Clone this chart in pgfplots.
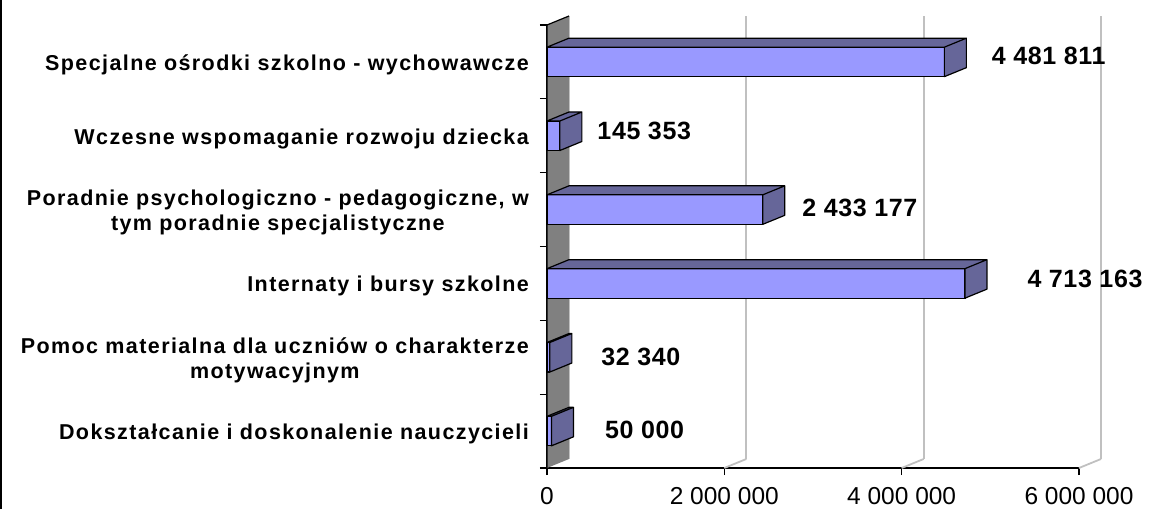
\documentclass[border=0pt]{standalone}
\usepackage{fontspec}
\setmainfont{Liberation Sans}
\newfontfamily\labfont[LetterSpace=6.5]{Liberation Sans}
\newfontfamily\valfontfam[LetterSpace=2.5]{Liberation Sans}
\usepackage{pgfplots}
\pgfplotsset{compat=1.18}
\usepackage{pgfplotstable}

\definecolor{barfront}{HTML}{9999FF}
\definecolor{barside}{HTML}{666699}
\definecolor{wall}{HTML}{808080}
\definecolor{gridc}{HTML}{C0C0C0}

\newcommand\catfont{\labfont\bfseries\fontsize{21.5}{25.5}\selectfont}
\newcommand\valfont{\valfontfam\bfseries\fontsize{25}{28}\selectfont}
\newcommand\ticfont{\fontsize{24.5}{28}\selectfont}

\pgfplotstableread[col sep=comma]{
y,v,lx,ly,lbl
0,50000,53,1,50 000
1,32340,51,0,32 340
2,4713163,62,5,4 713 163
3,2433177,39,2,2 433 177
4,145353,37,5,145 353
5,4481811,47,6,4 481 811
}\data

\begin{document}
\begin{tikzpicture}
\path[use as bounding box] (0pt,0pt) rectangle (1151pt,509pt);
\draw[black, line width=2pt] (1pt,0pt) -- (1pt,509pt);
\begin{axis}[
  at={(547pt,41pt)}, anchor=south west,
  scale only axis, width=532pt, height=443pt,
  xmin=0, xmax=6000000, ymin=-0.5, ymax=5.5,
  axis x line*=bottom, axis y line*=left,
  axis line style={black, line width=1.2pt},
  xtick={0,2000000,4000000,6000000},
  xticklabels={0,{2 000 000},{4 000 000},{6 000 000}},
  scaled x ticks=false,
  ytick={-0.5,0.5,...,5.5},
  y tick label as interval,
  yticklabels={Dokształcanie i doskonalenie nauczycieli,
    {Pomoc materialna dla uczniów o charakterze\\motywacyjnym},
    Internaty i bursy szkolne,
    {Poradnie psychologiczno - pedagogiczne, w\\tym poradnie specjalistyczne},
    Wczesne wspomaganie rozwoju dziecka,
    Specjalne ośrodki szkolno - wychowawcze},
  tick align=outside, major tick length=7pt,
  tick style={black, line width=1.2pt},
  xticklabel style={font=\ticfont, inner sep=0pt, anchor=north, yshift=-12pt},
  yticklabel style={font=\catfont, align=center, inner sep=0pt, anchor=east, xshift=-11pt, yshift=-3pt},
  xmajorgrids=true, ymajorgrids=false,
  major grid style={gridc, line width=1.8pt, xshift=22pt, yshift=9pt},
  clip=false,
  xbar, bar width=29.5pt,
]
% back wall
\fill[wall] (axis cs:0,-0.5) -- ++(22pt,9pt) -- ([shift={(22pt,9pt)}]axis cs:0,5.5) -- (axis cs:0,5.5) -- cycle;
\draw[black, line width=1.2pt] (axis cs:0,-0.5) -- (axis cs:0,5.5) -- ++(22pt,9pt);
\pgfplotsinvokeforeach{2000000,4000000,6000000}{
  \draw[gridc, line width=1.8pt] (axis cs:#1,-0.5) -- ++(22pt,9pt);
}
\addplot[xbar, fill=barfront, draw=black, line width=1.2pt,
  point meta=explicit symbolic,
  nodes near coords={\pgfplotspointmeta},
  visualization depends on={\thisrow{lx} \as \lx},
  visualization depends on={\thisrow{ly} \as \ly},
  every node near coord/.append style={anchor=west, inner sep=0pt, xshift=\lx pt, yshift=\ly pt, font=\valfont, text=black}]
  table[x=v, y=y, meta=lbl] {\data};
\pgfplotsinvokeforeach{0,1,2,3,4,5}{
  \pgfplotstablegetelem{#1}{v}\of\data
  \edef\tmp{\noexpand\filldraw[fill=barside, draw=black, line width=1.2pt, line join=round]
    ([yshift=-14.75pt]axis cs:\pgfplotsretval,#1) -- ++(22pt,9pt) -- ++(0pt,29.5pt) -- ++(-22pt,-9pt) -- cycle
    ([yshift=14.75pt]axis cs:0,#1) -- ++(22pt,9pt) -- ([shift={(22pt,23.75pt)}]axis cs:\pgfplotsretval,#1) -- ([yshift=14.75pt]axis cs:\pgfplotsretval,#1) -- cycle;}
  \tmp
}
\end{axis}
\end{tikzpicture}
\end{document}
